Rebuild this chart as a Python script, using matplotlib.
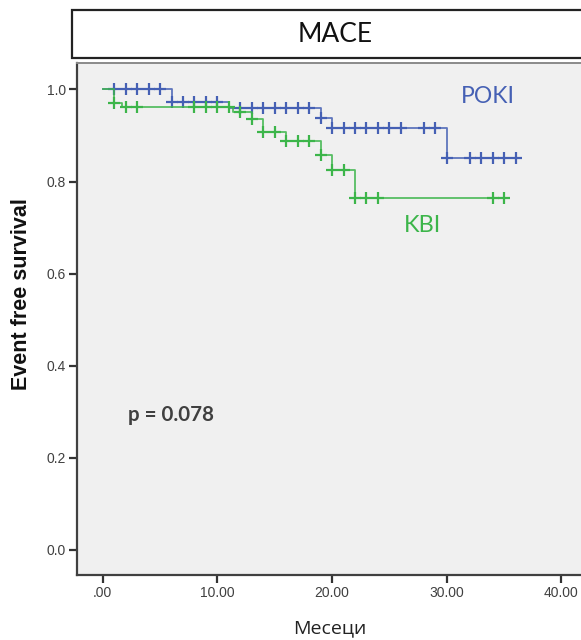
import numpy as np
import matplotlib
matplotlib.use("Agg")
import matplotlib.pyplot as plt
from matplotlib.patches import Rectangle

# ---- data ----
poki_times = [0, 6, 11, 19, 20, 30]
poki_surv = [1.0, 0.972, 0.959, 0.937, 0.916, 0.850]
poki_end = 36
poki_censor = [1, 2, 3, 4, 5, 6, 7, 8, 9, 10, 12, 13, 14, 15, 16, 17, 18, 19,
               20, 21, 22, 23, 24, 25, 26, 28, 29, 30, 32, 33, 34, 35, 36]

kbi_times = [0, 1, 1.7, 11.4, 13, 14, 16, 19, 20, 22]
kbi_surv = [1.0, 0.971, 0.962, 0.952, 0.936, 0.908, 0.887, 0.857, 0.825, 0.764]
kbi_end = 35
kbi_censor = [1, 2, 3, 8, 9, 10, 11, 12, 13, 14, 15, 16, 17, 18, 19, 20, 21,
              22, 23, 24, 34, 35]

x_ticks = [0, 10, 20, 30, 40]
x_ticklabels = [".00", "10.00", "20.00", "30.00", "40.00"]
y_ticks = [0.0, 0.2, 0.4, 0.6, 0.8, 1.0]
y_ticklabels = ["0.0", "0.2", "0.4", "0.6", "0.8", "1.0"]

title = "MACE"
xlabel = "Месеци"
ylabel = "Event free survival"
p_text = "p = 0.078"

BLUE = "#4560b4"
GREEN = "#3cb54a"

W, H = 581, 640
fig = plt.figure(figsize=(W / 100, H / 100), dpi=100)
fig.patch.set_facecolor("white")

# axes in pixel geometry
ax_l, ax_r, ax_t, ax_b = 77, 600, 63, 575
ax = fig.add_axes([ax_l / W, 1 - ax_b / H, (ax_r - ax_l) / W, (ax_b - ax_t) / H])
ax.set_facecolor("#f0f0f0")
ax.set_xlim(-2.24, 43.36)
ax.set_ylim(-0.0554, 1.0576)


def draw_curve(times, surv, end, censor, color, z):
    t = list(times) + [end]
    s = list(surv) + [surv[-1]]
    ax.step(t, s, where="post", color=color, lw=1.3, alpha=0.85, zorder=z)
    idx = np.searchsorted(np.array(times), np.array(censor), side="right") - 1
    cy = np.array(surv)[idx]
    ax.plot(censor, cy, linestyle="none", marker="+", ms=8, mew=1.6,
            color=color, zorder=z + 0.5)


draw_curve(poki_times, poki_surv, poki_end, poki_censor, BLUE, 3)
draw_curve(kbi_times, kbi_surv, kbi_end, kbi_censor, GREEN, 4)

ax.set_xticks(x_ticks)
ax.set_xticklabels(x_ticklabels)
ax.set_yticks(y_ticks)
ax.set_yticklabels(y_ticklabels)
ax.tick_params(axis="both", direction="out", length=6, width=1.6,
               color="#333333", labelsize=10, labelcolor="#404040", pad=2)
for lab in ax.get_xticklabels() + ax.get_yticklabels():
    lab.set_family(["Liberation Sans", "DejaVu Sans"])

for side in ["left", "bottom"]:
    ax.spines[side].set_color("#404040")
    ax.spines[side].set_linewidth(1.6)
ax.spines["top"].set_color("#8a8a8a")
ax.spines["top"].set_linewidth(1.4)
ax.spines["right"].set_visible(False)

# group labels
ax.text(33.55, 0.984, "POKI", color=BLUE, fontsize=16.5, ha="center", va="center",
        family=["Lato", "DejaVu Sans"])
ax.text(27.9, 0.705, "KBI", color=GREEN, fontsize=17, ha="center", va="center",
        family=["Lato", "DejaVu Sans"])
ax.text(2.2, 0.292, p_text, color="#404040", fontsize=14.8, fontweight="bold",
        ha="left", va="center", family=["Lato", "DejaVu Sans"])

# title box
fig.patches.append(Rectangle((72 / W, 1 - 58 / H), 1.0, 48 / H,
                             transform=fig.transFigure, facecolor="white",
                             edgecolor="#222222", lw=1.6))
fig.text(335 / W, 1 - 34 / H, title, fontsize=19, ha="center", va="center",
         color="#111111", family=["Lato", "DejaVu Sans"])

# axis labels
fig.text(22 / W, 1 - 294 / H, ylabel, rotation=90, fontsize=15.5,
         fontweight="bold", ha="center", va="center", color="#111111",
         family=["Liberation Sans", "DejaVu Sans"])
fig.text(330 / W, 1 - 628 / H, xlabel, fontsize=14, ha="center", va="center",
         color="#222222", family=["Open Sans", "DejaVu Sans"])

fig.savefig("out.png", dpi=100, facecolor="white")
